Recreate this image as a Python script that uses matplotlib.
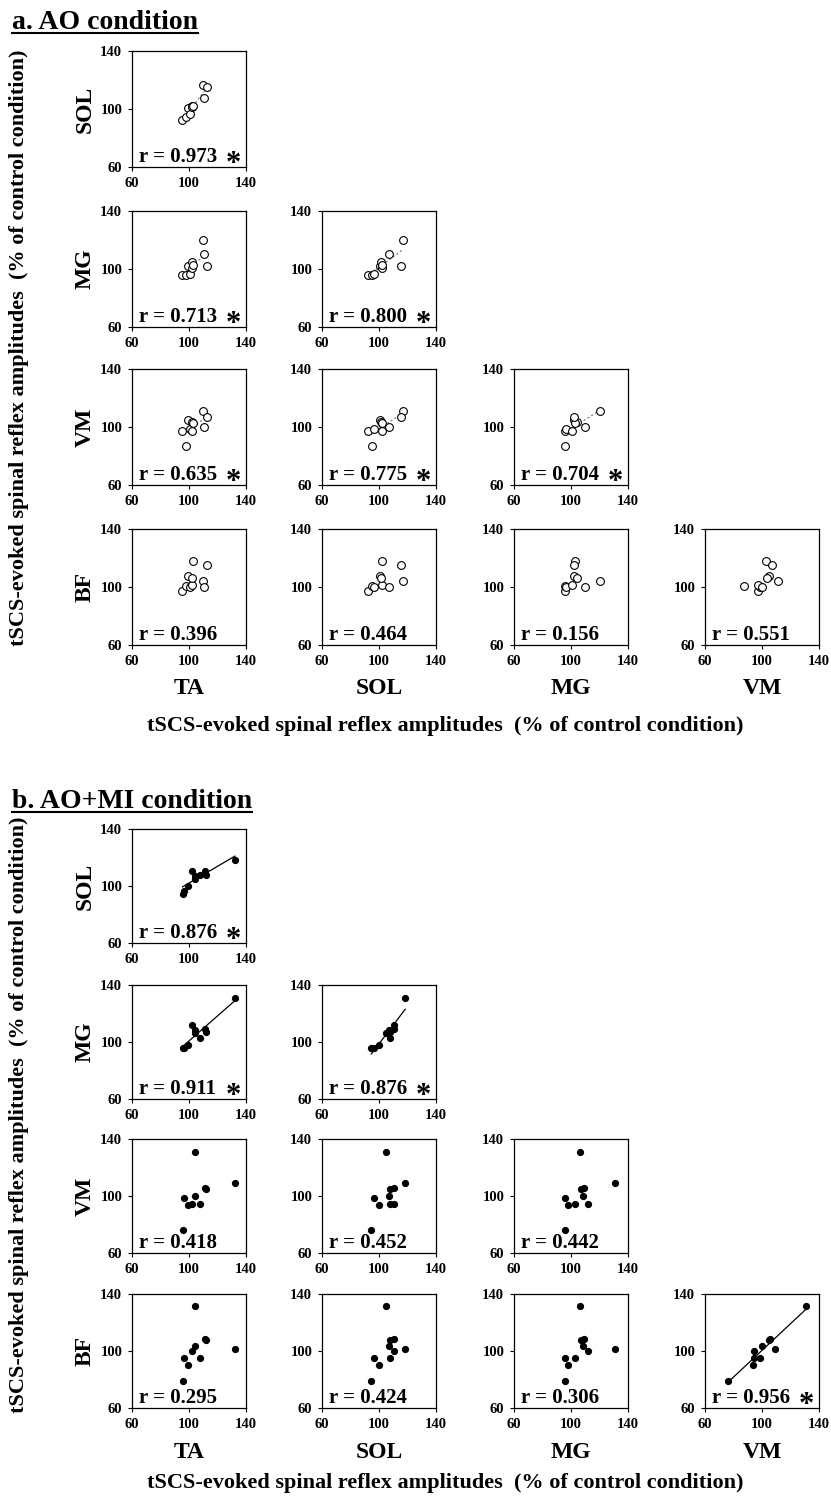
import numpy as np
import matplotlib
matplotlib.use('Agg')
import matplotlib.pyplot as plt
from matplotlib.lines import Line2D

plt.rcParams['font.family'] = ['Liberation Serif', 'DejaVu Serif']
plt.rcParams['font.weight'] = 'bold'

muscles = ['TA', 'SOL', 'MG', 'VM', 'BF']

# ---- a. AO condition (% of control), one value per participant ----
ao_TA = [95.0, 97.8, 99.4, 100.7, 102.4, 102.4, 103.0, 110.1, 110.8, 112.9]
ao_SOL = [92.3, 94.8, 100.5, 96.4, 101.8, 101.5, 102.2, 116.8, 107.3, 115.2]
ao_MG = [95.7, 96.0, 102.0, 96.3, 101.0, 104.5, 103.1, 120.3, 110.0, 102.3]
ao_VM = [97.0, 87.2, 104.6, 98.3, 97.4, 103.4, 102.5, 111.0, 100.0, 106.7]
ao_BF = [97.3, 101.0, 107.4, 99.7, 101.3, 106.2, 117.7, 104.4, 99.8, 115.5]
ao_r = [[0.973], [0.713, 0.800], [0.635, 0.775, 0.704], [0.396, 0.464, 0.156, 0.551]]
ao_sig = [[True], [True, True], [True, True, True], [False, False, False, False]]

# ---- b. AO+MI condition ----
mi_TA = [104.1, 95.5, 132.2, 96.7, 99.3, 107.5, 102.4, 104.1, 111.5, 112.0]
mi_SOL = [105.1, 94.6, 118.4, 96.7, 100.0, 108.0, 110.4, 107.0, 110.6, 108.0]
mi_MG = [106.4, 96.0, 130.6, 95.5, 97.8, 102.5, 111.8, 108.3, 109.0, 106.8]
mi_VM = [130.8, 75.8, 109.3, 98.9, 94.0, 94.4, 94.7, 99.9, 105.8, 104.6]
mi_BF = [131.5, 79.1, 101.3, 95.4, 90.2, 95.3, 99.8, 103.4, 108.5, 107.4]
mi_r = [[0.876], [0.911, 0.876], [0.418, 0.452, 0.442], [0.295, 0.424, 0.306, 0.956]]
mi_sig = [[True], [True, True], [False, False, False], [False, False, False, True]]

ticks = [60, 100, 140]
ylabel_text = 'tSCS-evoked spinal reflex amplitudes  (% of control condition)'

W, H = 831, 1501
fig = plt.figure(figsize=(W / 100, H / 100), dpi=100)


def ax_at(left, top, w, h):
    return fig.add_axes([left / W, 1 - (top + h) / H, w / W, h / H])


def fy(y):
    return 1 - y / H


def fx(x):
    return x / W


col_left = [132, 322, 514, 705]
col_w = 114


def panel(data, rvals, sig, row_tops, row_h, filled, title, title_y,
          colhead_y, xlabel_y, ylabel_y):
    for i in range(4):
        ym = muscles[i + 1]
        for j in range(i + 1):
            xm = muscles[j]
            ax = ax_at(col_left[j], row_tops[i], col_w, row_h)
            x = np.array(data[xm])
            y = np.array(data[ym])
            if sig[i][j]:
                k, b = np.polyfit(x, y, 1)
                xs = np.array([x.min(), x.max()])
                if filled:
                    ax.plot(xs, k * xs + b, color='black', lw=0.9, zorder=2)
                else:
                    ax.plot(xs, k * xs + b, color='#777777', lw=0.8,
                            ls=(0, (2, 2)), zorder=1)
            if filled:
                ax.plot(x, y, 'o', ms=4.2, color='black', mec='black', zorder=3)
            else:
                ax.plot(x, y, 'o', ms=5.6, mfc='white', mec='black',
                        mew=0.8, zorder=3)
            ax.set_xlim(60, 140)
            ax.set_ylim(60, 140)
            ax.set_xticks(ticks)
            ax.set_yticks(ticks)
            ax.tick_params(direction='out', length=3, width=0.8,
                           labelsize=10.5, pad=4)
            for lab in ax.get_xticklabels() + ax.get_yticklabels():
                lab.set_fontweight('bold')
            for s in ax.spines.values():
                s.set_linewidth(0.9)
                s.set_color('black')
            ax.text(0.06, 0.04, 'r = %.3f' % rvals[i][j], transform=ax.transAxes,
                    fontsize=15, fontweight='bold', va='baseline', ha='left',
                    zorder=4)
            if sig[i][j]:
                ax.text(0.89, -0.04, '*', transform=ax.transAxes,
                        fontsize=22, fontweight='bold', va='baseline',
                        ha='center', zorder=4)
            if j == 0:
                fig.text(fx(85), fy(row_tops[i] + row_h / 2), ym, rotation=90,
                         fontsize=17, fontweight='bold', ha='center', va='center')
    for j in range(4):
        fig.text(fx(col_left[j] + col_w / 2), fy(colhead_y), muscles[j],
                 fontsize=17, fontweight='bold', ha='center', va='center')
    fig.text(fx(445), fy(xlabel_y), ylabel_text, fontsize=16,
             fontweight='bold', ha='center', va='center')
    fig.text(fx(19), fy(ylabel_y), ylabel_text, fontsize=16,
             fontweight='bold', ha='center', va='center', rotation=90)
    t = fig.text(fx(12), fy(title_y), title, fontsize=20, fontweight='bold',
                 ha='left', va='baseline')
    return t


ao = dict(TA=ao_TA, SOL=ao_SOL, MG=ao_MG, VM=ao_VM, BF=ao_BF)
mi = dict(TA=mi_TA, SOL=mi_SOL, MG=mi_MG, VM=mi_VM, BF=mi_BF)

t1 = panel(ao, ao_r, ao_sig, [51, 211, 369, 529], 116, False,
           'a. AO condition', 29, 689, 726, 348)
t2 = panel(mi, mi_r, mi_sig, [829, 985, 1139, 1294], 114, True,
           'b. AO+MI condition', 808, 1452, 1483, 1115)

fig.canvas.draw()
renderer = fig.canvas.get_renderer()
for t, yline in [(t1, 33), (t2, 812)]:
    bb = t.get_window_extent(renderer)
    fig.add_artist(Line2D([bb.x0 / W, bb.x1 / W], [fy(yline), fy(yline)],
                          color='black', lw=1.5, transform=fig.transFigure))

fig.savefig('out.png', dpi=100)
